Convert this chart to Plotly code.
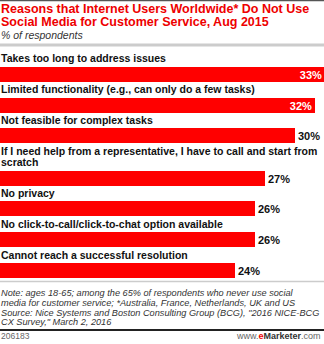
import plotly.graph_objects as go

# ---- data -------------------------------------------------------------
title_lines = [
    "Reasons that Internet Users Worldwide* Do Not Use",
    "Social Media for Customer Service, Aug 2015",
]
subtitle = "% of respondents"
reasons = [
    "Takes too long to address issues",
    "Limited functionality (e.g., can only do a few tasks)",
    "Not feasible for complex tasks",
    "If I need help from a representative, I have to call and start from<br>scratch",
    "No privacy",
    "No click-to-call/click-to-chat option available",
    "Cannot reach a successful resolution",
]
shares = [33, 32, 30, 27, 26, 26, 24]
value_labels = [f"{v}%" for v in shares]
notes = [
    "Note: ages 18-65; among the 65% of respondents who never use social",
    "media for customer service; *Australia, France, Netherlands, UK and US",
    'Source: Nice Systems and Boston Consulting Group (BCG), "2016 NICE-BCG',
    'CX Survey," March 2, 2016',
]
chart_id = "206183"
site = 'www.<b><span style="color:#ee0000">e</span><span style="color:#333333">Marketer</span></b>.com'

# ---- layout constants (pixels) -----------------------------------------
W, H = 324, 344
X_RANGE = [0.5, 32.9]
FIRST_CENTER = 74.2
ROW_PITCH = 30.8
EXTRA_LINE = 11.5
BAR_PX = 15
LABEL_LINE = 11
LABEL_GAP = 3.7
DESC = 0.21

NARROW = "Liberation Sans Narrow, Arial Narrow, sans-serif"
SANS = "Liberation Sans, Arial, sans-serif"
RED = "#ff0000"
TITLE_RED = "#ee0000"

# bar centres follow the number of label lines above each bar
centers = []
c = FIRST_CENTER
for i, lab in enumerate(reasons):
    if i > 0:
        c += ROW_PITCH + EXTRA_LINE * (lab.count("<br>"))
    centers.append(c)

px_per_unit = W / (X_RANGE[1] - X_RANGE[0])
positions = []
for v in shares:
    end_px = (v - X_RANGE[0]) * px_per_unit
    positions.append("inside" if end_px + 26 > W else "outside")

fig = go.Figure(
    go.Bar(
        x=shares,
        y=centers,
        orientation="h",
        width=BAR_PX,
        marker=dict(color=RED, line=dict(width=0)),
        text=value_labels,
        textposition=positions,
        insidetextanchor="end",
        insidetextfont=dict(family=NARROW, size=11, color="white", weight="bold"),
        outsidetextfont=dict(family=NARROW, size=11, color="#111111", weight="bold"),
        constraintext="none",
        hoverinfo="skip",
    )
)


def py(row):
    """Convert a pixel row (from the top) into paper coordinates."""
    return 1 - row / H


annotations = []


def text_line(txt, baseline, size, family, color, x=0, anchor="left"):
    annotations.append(
        dict(
            text=txt,
            x=x,
            xref="paper",
            y=py(baseline + DESC * size),
            yref="paper",
            xanchor=anchor,
            yanchor="bottom",
            showarrow=False,
            borderpad=0,
            align=anchor,
            font=dict(family=family, size=size, color=color),
        )
    )


# header
for i, line in enumerate(title_lines):
    text_line(f"<b>{line}</b>", 14 + 13.5 * i, 12.5, NARROW, TITLE_RED)
text_line(f"<i>{subtitle}</i>", 39.5, 10.5, SANS, "#333333")

# category labels above each bar
for lab, cy in zip(reasons, centers):
    lines = lab.split("<br>")
    last_base = cy - BAR_PX / 2 - LABEL_GAP
    for j, line in enumerate(lines):
        base = last_base - LABEL_LINE * (len(lines) - 1 - j)
        text_line(f"<b>{line}</b>", base, 10.5, NARROW, "#111111")

# footer
for i, line in enumerate(notes):
    text_line(f"<i>{line}</i>", 297 + 9.8 * i, 9.2, SANS, "#333333")
text_line(chart_id, 340, 8.5, SANS, "#666666")
text_line(site, 340, 9, SANS, "#666666", x=0.995, anchor="right")

shapes = [
    dict(type="line", xref="paper", yref="paper", x0=0, x1=1, y0=py(0.5), y1=py(0.5),
         line=dict(color="#555555", width=1.5)),
    dict(type="line", xref="paper", yref="paper", x0=0, x1=1, y0=py(45), y1=py(45),
         line=dict(color="#cccccc", width=3)),
    dict(type="line", xref="paper", yref="paper", x0=0, x1=1, y0=py(281.5), y1=py(281.5),
         line=dict(color="#cccccc", width=1.5)),
    dict(type="line", xref="paper", yref="paper", x0=0, x1=1, y0=py(330), y1=py(330),
         line=dict(color="#222222", width=2)),
]

fig.update_layout(
    width=W,
    height=H,
    margin=dict(l=0, r=0, t=0, b=0),
    paper_bgcolor="white",
    plot_bgcolor="white",
    showlegend=False,
    bargap=0,
    xaxis=dict(range=X_RANGE, visible=False, fixedrange=True, domain=[0, 1]),
    yaxis=dict(range=[H, 0], visible=False, fixedrange=True, domain=[0, 1]),
    annotations=annotations,
    shapes=shapes,
)

fig.write_html("out.html", config={"displayModeBar": False})
